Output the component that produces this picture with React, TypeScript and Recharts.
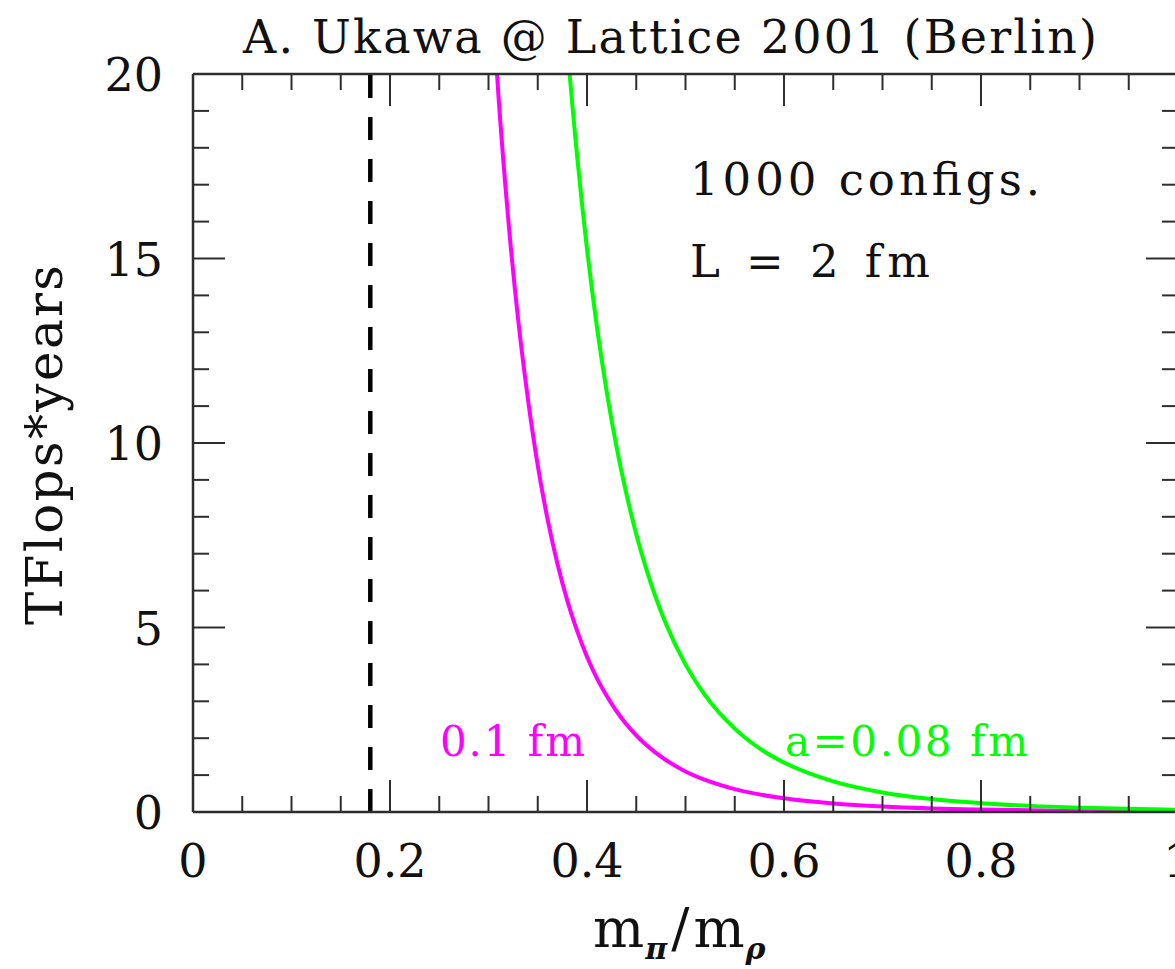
import React from 'react';
import { LineChart, Line, XAxis, YAxis, ReferenceLine } from 'recharts';

// ---- data ----
const xTicks = [0, 0.05, 0.1, 0.15, 0.2, 0.25, 0.3, 0.35, 0.4, 0.45, 0.5, 0.55, 0.6, 0.65, 0.7, 0.75, 0.8, 0.85, 0.9, 0.95, 1];
const yTicks = [0, 1, 2, 3, 4, 5, 6, 7, 8, 9, 10, 11, 12, 13, 14, 15, 16, 17, 18, 19, 20];

// a = 0.1 fm (magenta)
const ratioA10 = [0.30, 0.31, 0.32, 0.33, 0.34, 0.35, 0.36, 0.37, 0.38, 0.39, 0.40, 0.41, 0.42, 0.43, 0.44, 0.45, 0.46, 0.47, 0.48, 0.50, 0.52, 0.55, 0.60, 0.65, 0.70, 0.75, 0.80, 0.85, 0.90, 0.95, 1.00];
const costA10 = [23.7, 19.45, 16.08, 13.37, 11.2, 9.39, 7.93, 6.73, 5.73, 4.91, 4.21, 3.63, 3.15, 2.73, 2.38, 2.08, 1.82, 1.60, 1.41, 1.10, 0.87, 0.62, 0.37, 0.23, 0.147, 0.097, 0.066, 0.046, 0.032, 0.024, 0.017];

// a = 0.08 fm (green)
const ratioA08 = [0.37, 0.38, 0.39, 0.40, 0.41, 0.42, 0.43, 0.44, 0.45, 0.46, 0.47, 0.48, 0.50, 0.52, 0.55, 0.58, 0.60, 0.65, 0.70, 0.75, 0.80, 0.85, 0.90, 0.95, 1.00];
const costA08 = [24.4, 20.76, 17.77, 15.26, 13.16, 11.39, 9.89, 8.62, 7.53, 6.60, 5.80, 5.11, 4.00, 3.16, 2.26, 1.64, 1.34, 0.83, 0.53, 0.35, 0.24, 0.166, 0.118, 0.085, 0.063];

const physicalRatio = 0.18;

const titleText = 'A. Ukawa @ Lattice 2001 (Berlin)';
const yLabelText = 'TFlops*years';
const noteLines = ['1000 configs.', 'L = 2 fm'];
const seriesLabels = ['0.1 fm', 'a=0.08 fm'];

const dataA10 = ratioA10.map((x, i) => ({ x, y: costA10[i] }));
const dataA08 = ratioA08.map((x, i) => ({ x, y: costA08[i] }));

// ---- styles ----
const FONT = '"DejaVu Serif", serif';
const AXIS = '#2e2e2e';
const MAGENTA = '#ff00ff';
const GREEN = '#00ff00';

const isMajorX = (v: number) => Math.abs(v * 5 - Math.round(v * 5)) < 1e-6;
const isMajorY = (v: number) => Math.abs(v / 5 - Math.round(v / 5)) < 1e-6;
const fmtX = (v: number) => (v === 0 ? '0' : v === 1 ? '1' : v.toFixed(1));

const BottomTick = (props: any) => {
  const { x, y, payload } = props;
  const v = payload.value;
  const major = isMajorX(v);
  return (
    <g>
      <line x1={x} x2={x} y1={y} y2={y - (major ? 32 : 16)} stroke={AXIS} strokeWidth={2} />
      {major && (
        <text x={x} y={y + 65} textAnchor="middle" fontSize={46} fontFamily={FONT} fill="#111">
          {fmtX(v)}
        </text>
      )}
    </g>
  );
};

const TopTick = (props: any) => {
  const { x, y, payload } = props;
  const major = isMajorX(payload.value);
  return <line x1={x} x2={x} y1={y} y2={y + (major ? 32 : 16)} stroke={AXIS} strokeWidth={2} />;
};

const LeftTick = (props: any) => {
  const { x, y, payload } = props;
  const v = payload.value;
  const major = isMajorY(v);
  return (
    <g>
      <line x1={x} x2={x + (major ? 32 : 16)} y1={y} y2={y} stroke={AXIS} strokeWidth={2} />
      {major && (
        <text x={x - 30} y={y + 17} textAnchor="end" fontSize={46} fontFamily={FONT} fill="#111">
          {String(v)}
        </text>
      )}
    </g>
  );
};

const RightTick = (props: any) => {
  const { x, y, payload } = props;
  const major = isMajorY(payload.value);
  return <line x1={x} x2={x - (major ? 32 : 16)} y1={y} y2={y} stroke={AXIS} strokeWidth={2} />;
};

export default function App() {
  return (
    <div style={{ position: 'absolute', left: 0, top: 0, width: 1175, height: 969, overflow: 'hidden', background: '#fff' }}>
      <LineChart width={1186} height={969} margin={{ top: 0, right: 0, bottom: 0, left: 0 }}>
        <XAxis
          xAxisId="b"
          type="number"
          dataKey="x"
          domain={[0, 1]}
          ticks={xTicks}
          interval={0}
          tick={<BottomTick />}
          tickLine={false}
          tickSize={0}
          tickMargin={0}
          height={157}
          axisLine={{ stroke: AXIS, strokeWidth: 2.5 }}
          allowDataOverflow
        />
        <XAxis
          xAxisId="t"
          orientation="top"
          type="number"
          dataKey="x"
          domain={[0, 1]}
          ticks={xTicks}
          interval={0}
          tick={<TopTick />}
          tickLine={false}
          tickSize={0}
          tickMargin={0}
          height={74}
          axisLine={{ stroke: AXIS, strokeWidth: 2.5 }}
          allowDataOverflow
        />
        <YAxis
          yAxisId="l"
          type="number"
          domain={[0, 20]}
          ticks={yTicks}
          interval={0}
          tick={<LeftTick />}
          tickLine={false}
          tickSize={0}
          tickMargin={0}
          width={193}
          axisLine={{ stroke: AXIS, strokeWidth: 2.5 }}
          allowDataOverflow
        />
        <YAxis
          yAxisId="r"
          orientation="right"
          type="number"
          domain={[0, 20]}
          ticks={yTicks}
          interval={0}
          tick={<RightTick />}
          tickLine={false}
          tickSize={0}
          tickMargin={0}
          width={8}
          axisLine={{ stroke: AXIS, strokeWidth: 2.5 }}
          allowDataOverflow
        />
        <ReferenceLine
          x={physicalRatio}
          xAxisId="b"
          yAxisId="l"
          stroke="#000"
          strokeWidth={4.5}
          strokeDasharray="23 19"
          ifOverflow="hidden"
        />
        <Line
          data={dataA10}
          dataKey="y"
          xAxisId="b"
          yAxisId="l"
          type="monotone"
          stroke={MAGENTA}
          strokeWidth={4}
          dot={false}
          isAnimationActive={false}
        />
        <Line
          data={dataA08}
          dataKey="y"
          xAxisId="b"
          yAxisId="l"
          type="monotone"
          stroke={GREEN}
          strokeWidth={4}
          dot={false}
          isAnimationActive={false}
        />
        <text x={670} y={53} textAnchor="middle" fontSize={46} fontFamily={FONT} fill="#111" textLength={854} lengthAdjust="spacing">
          {titleText}
        </text>
        <text x={690} y={195} fontSize={45} fontFamily={FONT} fill="#111" textLength={350} lengthAdjust="spacing">
          {noteLines[0]}
        </text>
        <text x={690} y={277} fontSize={45} fontFamily={FONT} fill="#111" textLength={240} lengthAdjust="spacing">
          {noteLines[1]}
        </text>
        <text x={440} y={756} fontSize={42} fontFamily={FONT} fill={MAGENTA} textLength={145} lengthAdjust="spacing">
          {seriesLabels[0]}
        </text>
        <text x={785} y={756} fontSize={42} fontFamily={FONT} fill={GREEN} textLength={243} lengthAdjust="spacing">
          {seriesLabels[1]}
        </text>
        <text
          x={62}
          y={445}
          transform="rotate(-90, 62, 445)"
          textAnchor="middle"
          fontSize={50}
          fontFamily={FONT}
          fill="#111"
          textLength={360}
          lengthAdjust="spacing"
        >
          {yLabelText}
        </text>
        <text x={593} y={947} fontSize={54} fontFamily={FONT} fill="#111">
          m
          <tspan dy={12} dx={1} fontSize={30} fontStyle="italic" fontWeight="bold">π</tspan>
          <tspan dy={-12} dx={4} fontSize={54}>/</tspan>
          <tspan dx={4} fontSize={54}>m</tspan>
          <tspan dy={12} dx={1} fontSize={30} fontStyle="italic" fontWeight="bold">ρ</tspan>
        </text>
      </LineChart>
    </div>
  );
}
